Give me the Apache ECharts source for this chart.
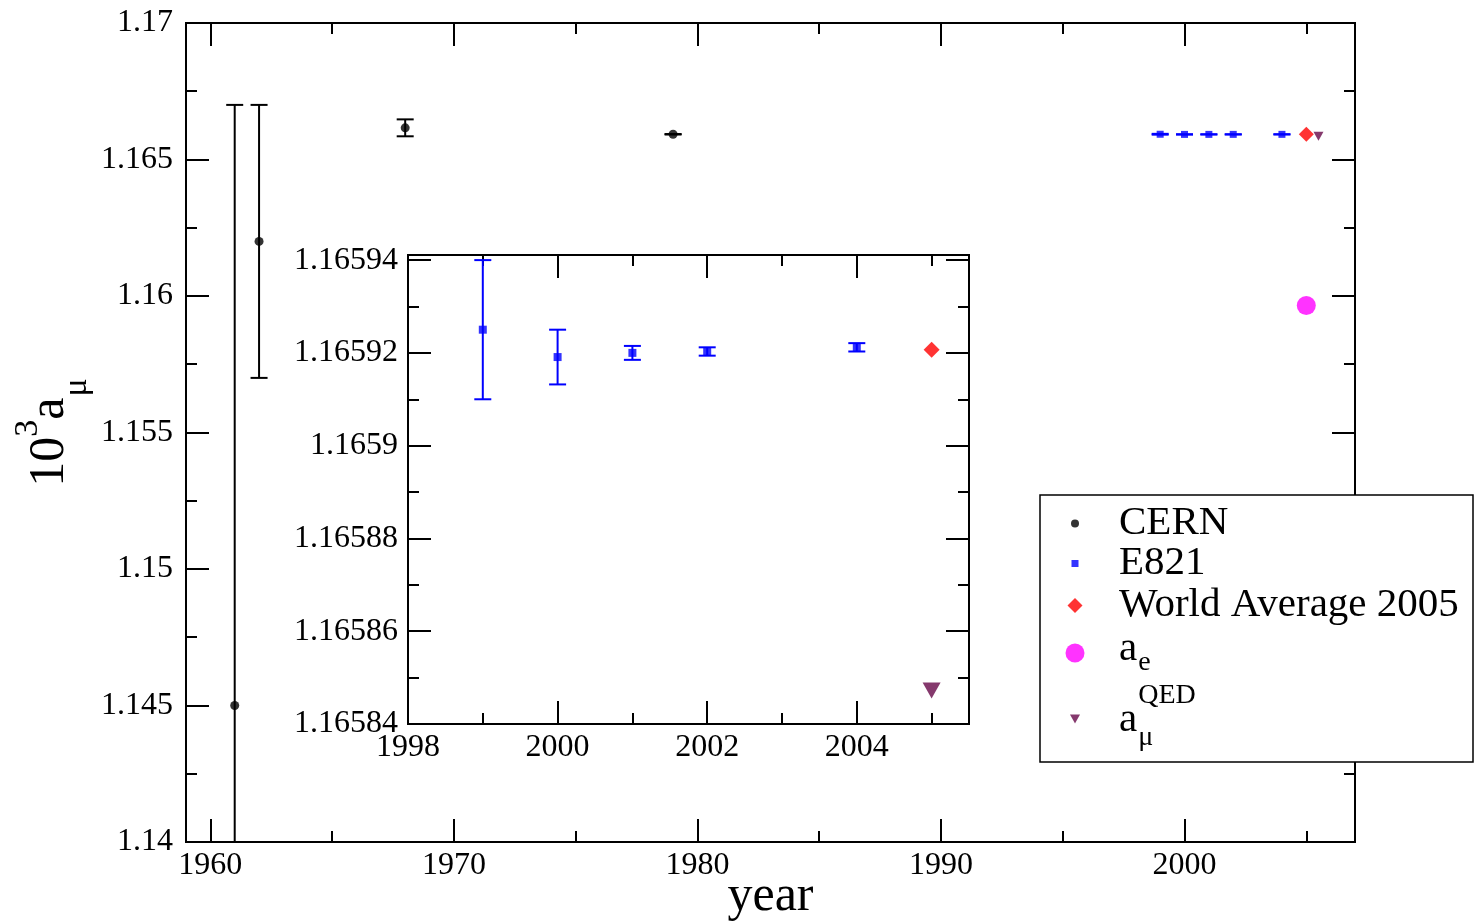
<!DOCTYPE html>
<html>
<head>
<meta charset="utf-8">
<script src="https://cdn.jsdelivr.net/npm/echarts@6.0.0/dist/echarts.min.js"></script>
<style>
html, body { margin: 0; padding: 0; background: #ffffff; }
#chart { width: 1484px; height: 921px; }
</style>
</head>
<body>
<div id="chart"></div>
<script>
// ---------------- data ----------------
const cernYears  = [1961, 1962, 1968, 1979];
const cernValues = [1.145, 1.162, 1.16616, 1.165924];
const cernErrors = [0.022, 0.005, 0.00031, 0.0000085];

const e821Years  = [1999, 2000, 2001, 2002, 2004];
const e821Values = [1.165925, 1.1659191, 1.16592, 1.1659203, 1.1659212];
const e821Errors = [0.000015, 0.0000059, 0.0000015, 0.0000009, 0.0000009];

const worldAvgYears  = [2005];
const worldAvgValues = [1.1659207];

const aeYears  = [2005];
const aeValues = [1.1596522];

const qedYearsMain  = [2005.5];
const qedYearsInset = [2005];
const qedValues     = [1.1658472];

// tick positions / labels
const mainXMajorTicks = [1960, 1970, 1980, 1990, 2000];
const mainXMinorTicks = [1965, 1975, 1985, 1995, 2005];
const mainYRange = [1.14, 1.17];
const mainYMajorStep = 0.005;
const mainYMinorStep = 0.0025;
const insetXRange = [1998, 2005.5];
const insetXMajorStep = 2;
const insetXMinorStep = 1;
const insetYRange = [1.16584, 1.1659411];
const insetYMajorStep = 0.00002;
const insetYMinorStep = 0.00001;

// ---------------- helpers ----------------
const FONT = '"Liberation Serif", "Times New Roman", Times, serif';
const BLACK = '#000000', BLUE = '#0000ff', RED = '#ff0000', MAGENTA = '#ff00ff', MAROON = '#670748';
const TRI_DOWN = 'path://M0,0 L10,0 L5,9 Z';

function zip3(a, b, c) { return a.map((v, i) => c ? [v, b[i], c[i]] : [v, b[i]]); }

function axis(dim, grid, pos, range, opts) {
  const a = {
    type: 'value', gridIndex: grid, position: pos,
    min: range[0], max: range[1],
    axisLine: { show: false },
    splitLine: { show: false },
    axisTick: { show: true, inside: true, length: opts.len, lineStyle: { color: BLACK, width: 2 } },
    axisLabel: { show: false }
  };
  if (opts.interval != null) a.interval = opts.interval;
  if (opts.ticks) a.axisTick.customValues = opts.ticks;
  if (opts.labels) {
    a.axisLabel = {
      show: true, color: BLACK, fontFamily: FONT, fontSize: 32,
      margin: opts.margin, showMaxLabel: opts.showMax !== false, showMinLabel: true,
      hideOverlap: false,
      formatter: function (v) { return String(+v.toPrecision(10)); }
    };
    if (opts.ticks) a.axisLabel.customValues = opts.ticks;
  }
  return a;
}

function errorBars(color, capWidth, lineWidth) {
  return function (params, api) {
    const x = api.value(0), y = api.value(1), e = api.value(2);
    const hi = api.coord([x, y + e]);
    const lo = api.coord([x, y - e]);
    const cs = params.coordSys;
    const top = Math.max(hi[1], cs.y);
    const bottom = Math.min(lo[1], cs.y + cs.height);
    const st = () => ({ stroke: color, lineWidth: lineWidth });
    const hw = capWidth / 2;
    const children = [{ type: 'line', shape: { x1: hi[0], y1: top, x2: hi[0], y2: bottom }, style: st() }];
    if (hi[1] >= cs.y) children.push({ type: 'line', shape: { x1: hi[0] - hw, y1: hi[1], x2: hi[0] + hw, y2: hi[1] }, style: st() });
    if (lo[1] <= cs.y + cs.height) children.push({ type: 'line', shape: { x1: lo[0] - hw, y1: lo[1], x2: lo[0] + hw, y2: lo[1] }, style: st() });
    return { type: 'group', children: children };
  };
}

// legend entries (one legend component per entry so each symbol keeps its own size)
const LEG_SYM_X = 1075, LEG_TEXT_X = 1119, LEG_FS = 41;
function legendEntry(name, icon, w, h, top, text, rich) {
  return {
    show: true, selectedMode: false, orient: 'vertical', z: 20,
    left: LEG_SYM_X - w / 2, top: top,
    itemWidth: w, itemHeight: h, itemGap: 0, padding: 0,
    data: [{ name: name, icon: icon }],
    formatter: function () { return text; },
    textStyle: { fontFamily: FONT, fontSize: LEG_FS, color: BLACK, rich: rich }
  };
}
function padL(w) { return LEG_TEXT_X - (LEG_SYM_X + w / 2 + 5); }
function mainTok(w, extra) {
  return Object.assign({ fontFamily: FONT, fontSize: LEG_FS, lineHeight: 44, color: BLACK, padding: [0, 0, 0, padL(w)] }, extra || {});
}

const legends = [
  legendEntry('CERN', 'circle', 8, 8, 503, '{m|CERN}', { m: mainTok(8) }),
  legendEntry('E821', 'rect', 7, 7, 543, '{m|E821}', { m: mainTok(7) }),
  legendEntry('World Average 2005', 'diamond', 15, 15, 585, '{m|World Average 2005}', { m: mainTok(15) }),
  legendEntry('ae', 'circle', 19, 19, 623, '{sp| }{m|a}{sub|e}', {
    sp: { fontSize: 10, lineHeight: 60, width: 0, verticalAlign: 'top' },
    m: mainTok(19, { verticalAlign: 'top', padding: [6, 0, 0, padL(19)] }),
    sub: { fontFamily: FONT, fontSize: 28, lineHeight: 20, color: BLACK, verticalAlign: 'top', padding: [25.5, 0, 0, 1] }
  }),
  legendEntry('amuQED', TRI_DOWN, 10, 9, 681, '{sp| }{m|a}{sub|μ}{sup|QED}', {
    sp: { fontSize: 10, lineHeight: 76, width: 0, verticalAlign: 'top' },
    m: mainTok(10, { verticalAlign: 'top', padding: [19, 0, 0, padL(10)] }),
    sub: { fontFamily: FONT, fontSize: 28, lineHeight: 20, color: BLACK, verticalAlign: 'top', width: 0, padding: [43, 0, 0, 1] },
    sup: { fontFamily: FONT, fontSize: 28, lineHeight: 20, color: BLACK, verticalAlign: 'top', padding: [0.5, 0, 0, 0] }
  })
];

// ---------------- option ----------------
const option = {
  animation: false,
  backgroundColor: '#ffffff',
  grid: [
    { left: 186, top: 23, right: 129, bottom: 79, show: true, borderColor: BLACK, borderWidth: 2,
      backgroundColor: 'transparent', outerBoundsMode: 'none', containLabel: false },
    { left: 408, top: 255, width: 561, height: 469, show: true, borderColor: BLACK, borderWidth: 2,
      backgroundColor: '#ffffff', outerBoundsMode: 'none', containLabel: false }
  ],
  xAxis: [
    Object.assign(axis('x', 0, 'bottom', [1959, 2007], { len: 23, ticks: mainXMajorTicks, labels: true, margin: 8 }), {
      name: 'year', nameLocation: 'middle', nameGap: 30, nameMoveOverlap: false,
      nameTextStyle: { fontFamily: FONT, fontSize: 50, color: BLACK, verticalAlign: 'top' }
    }),
    axis('x', 0, 'bottom', [1959, 2007], { len: 11, ticks: mainXMinorTicks }),
    axis('x', 0, 'top', [1959, 2007], { len: 23, ticks: mainXMajorTicks }),
    axis('x', 0, 'top', [1959, 2007], { len: 11, ticks: mainXMinorTicks }),
    axis('x', 1, 'bottom', insetXRange, { len: 23, interval: insetXMajorStep, labels: true, margin: 8, showMax: false }),
    axis('x', 1, 'bottom', insetXRange, { len: 11, interval: insetXMinorStep }),
    axis('x', 1, 'top', insetXRange, { len: 23, interval: insetXMajorStep }),
    axis('x', 1, 'top', insetXRange, { len: 11, interval: insetXMinorStep })
  ],
  yAxis: [
    Object.assign(axis('y', 0, 'left', mainYRange, { len: 23, interval: mainYMajorStep, labels: true, margin: 13 }), {
      name: '{n|10}{sup|3}{n|a}{sub|μ}', nameLocation: 'middle', nameGap: 131, nameRotate: 90, nameMoveOverlap: false,
      nameTextStyle: {
        fontFamily: FONT, fontSize: 50, color: BLACK,
        rich: {
          n: { fontFamily: FONT, fontSize: 50, lineHeight: 50, color: BLACK, verticalAlign: 'top', padding: [20, 0, 20, 0] },
          sup: { fontFamily: FONT, fontSize: 34, lineHeight: 24, color: BLACK, verticalAlign: 'top', padding: [6, 0, 0, 0] },
          sub: { fontFamily: FONT, fontSize: 34, lineHeight: 24, color: BLACK, verticalAlign: 'top', padding: [55, 0, 0, 1] }
        }
      }
    }),
    axis('y', 0, 'left', mainYRange, { len: 11, interval: mainYMinorStep }),
    axis('y', 0, 'right', mainYRange, { len: 23, interval: mainYMajorStep }),
    axis('y', 0, 'right', mainYRange, { len: 11, interval: mainYMinorStep }),
    axis('y', 1, 'left', insetYRange, { len: 23, interval: insetYMajorStep, labels: true, margin: 10, showMax: false }),
    axis('y', 1, 'left', insetYRange, { len: 11, interval: insetYMinorStep }),
    axis('y', 1, 'right', insetYRange, { len: 23, interval: insetYMajorStep }),
    axis('y', 1, 'right', insetYRange, { len: 11, interval: insetYMinorStep })
  ],
  legend: legends,
  graphic: [
    { type: 'rect', z: 10, shape: { x: 1040, y: 495, width: 433, height: 267 },
      style: { fill: '#ffffff', stroke: BLACK, lineWidth: 1.5 } }
  ],
  series: [
    // ---- main panel ----
    { name: 'CERN errors', type: 'custom', xAxisIndex: 0, yAxisIndex: 0, z: 3,
      data: zip3(cernYears, cernValues, cernErrors), encode: { x: 0, y: 1 },
      renderItem: errorBars(BLACK, 17, 2) },
    { name: 'CERN', type: 'scatter', xAxisIndex: 0, yAxisIndex: 0, z: 4,
      data: zip3(cernYears, cernValues), symbol: 'circle', symbolSize: 9, itemStyle: { color: BLACK } },
    { name: 'E821 errors', type: 'custom', xAxisIndex: 0, yAxisIndex: 0, z: 3,
      data: zip3(e821Years, e821Values, e821Errors), encode: { x: 0, y: 1 },
      renderItem: errorBars(BLUE, 17, 2) },
    { name: 'E821', type: 'scatter', xAxisIndex: 0, yAxisIndex: 0, z: 4,
      data: zip3(e821Years, e821Values), symbol: 'rect', symbolSize: 7, itemStyle: { color: BLUE } },
    { name: 'World Average 2005', type: 'scatter', xAxisIndex: 0, yAxisIndex: 0, z: 4,
      data: zip3(worldAvgYears, worldAvgValues), symbol: 'diamond', symbolSize: 15, itemStyle: { color: RED } },
    { name: 'ae', type: 'scatter', xAxisIndex: 0, yAxisIndex: 0, z: 4,
      data: zip3(aeYears, aeValues), symbol: 'circle', symbolSize: 19, itemStyle: { color: MAGENTA } },
    { name: 'amuQED', type: 'scatter', xAxisIndex: 0, yAxisIndex: 0, z: 4,
      data: zip3(qedYearsMain, qedValues), symbol: TRI_DOWN, symbolSize: [10, 9], itemStyle: { color: MAROON } },
    // ---- inset panel ----
    { name: 'E821 errors inset', type: 'custom', xAxisIndex: 4, yAxisIndex: 4, z: 3,
      data: zip3(e821Years, e821Values, e821Errors), encode: { x: 0, y: 1 },
      renderItem: errorBars(BLUE, 17, 2) },
    { name: 'E821', type: 'scatter', xAxisIndex: 4, yAxisIndex: 4, z: 4,
      data: zip3(e821Years, e821Values), symbol: 'rect', symbolSize: 8, itemStyle: { color: BLUE } },
    { name: 'World Average 2005', type: 'scatter', xAxisIndex: 4, yAxisIndex: 4, z: 4,
      data: zip3(worldAvgYears, worldAvgValues), symbol: 'diamond', symbolSize: 16, itemStyle: { color: RED } },
    { name: 'amuQED', type: 'scatter', xAxisIndex: 4, yAxisIndex: 4, z: 4,
      data: zip3(qedYearsInset, qedValues), symbol: TRI_DOWN, symbolSize: [18, 16], itemStyle: { color: MAROON } }
  ]
};

const chart = echarts.init(document.getElementById('chart'), null, { renderer: 'canvas' });
chart.setOption(option);
</script>
</body>
</html>
